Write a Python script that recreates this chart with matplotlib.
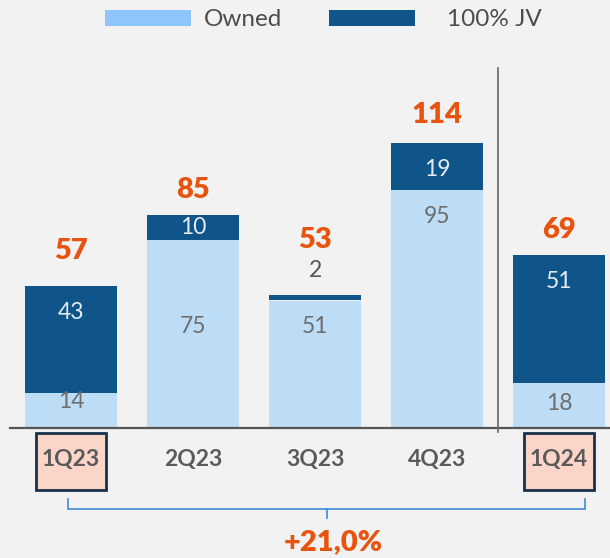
"""Quarterly stacked bars: Owned vs 100% JV, with totals and YoY bracket."""
import matplotlib
matplotlib.use("Agg")
import matplotlib.pyplot as plt
from matplotlib.patches import Rectangle

# --- data -----------------------------------------------------------------
quarters = ["1Q23", "2Q23", "3Q23", "4Q23", "1Q24"]
owned = [14, 75, 51, 95, 18]
jv = [43, 10, 2, 19, 51]
totals = [57, 85, 53, 114, 69]
highlight = ["1Q23", "1Q24"]
growth_label = "+21,0%"

# --- label layout (data units, y) ------------------------------------------
owned_label_y = [10.4, 40.4, 40.4, 84.4, 9.6]
jv_label_y = [46.0, 80.0, 62.8, 103.2, 58.4]
total_label_y = [70.9, 95.2, 75.2, 125.2, 79.2]

BG = "#f2f2f2"
LIGHT = "#bddcf5"
LIGHT_LEG = "#8ec6fb"
DARK = "#10558a"
ORANGE = "#e8540f"
GREY = "#5a5a5a"
FONT = "Lato"

W, H = 610, 558
fig = plt.figure(figsize=(W / 100, H / 100), dpi=100, facecolor=BG)
ax = fig.add_axes([0, 0, 1, 1])
ax.set_facecolor(BG)
ax.axis("off")

# pixel layout: bar centres at 71 + 122*i, baseline at y=428, 2.5 px per unit
ax.set_xlim(-71 / 122, (W - 71) / 122)
ax.set_ylim((428 - H) / 2.5, 428 / 2.5)

x = list(range(len(quarters)))
ax.bar(x, owned, width=0.755, color=LIGHT, zorder=2)
ax.bar(x, jv, width=0.755, bottom=owned, color=DARK, zorder=2)

for i in x:
    ax.text(i, owned_label_y[i], str(owned[i]), ha="center", va="center",
            fontsize=16.5, fontweight="normal", family=FONT, color="#6e6e6e", zorder=3)
    jv_col = "#555555" if jv[i] < 5 else "#e4ebf3"
    ax.text(i, jv_label_y[i], str(jv[i]), ha="center", va="center",
            fontsize=16.5, fontweight="normal", family=FONT, color=jv_col, zorder=3)
    ax.text(i, total_label_y[i], str(totals[i]), ha="center", va="center",
            fontsize=21, fontweight="heavy", family=FONT, color=ORANGE, zorder=3)

# baseline and separator
ax.axhline(0, xmin=10 / W, xmax=1, color="#555555", lw=1.6, zorder=4)
ax.axvline(3.5, ymin=(H - 432) / H, ymax=(H - 68) / H, color="#666666", lw=1.2, zorder=4)

# category labels, boxed ones highlighted
for i, q in enumerate(quarters):
    if q in highlight:
        ax.add_patch(Rectangle((i - 0.283, -24.8), 0.566, 22.8, facecolor="#fbd5c8",
                               edgecolor="#17324d", lw=2, zorder=3))
    ax.text(i, -12.6, q, ha="center", va="center", fontsize=16.5, fontweight="bold",
            family=FONT, color=GREY, zorder=4)

# growth bracket between first and last quarter
bl, br = -0.025, 4.215
bm = (bl + br) / 2
ax.plot([bl, bl, br, br], [-28.4, -32.4, -32.4, -28.4], color="#3f8ad6", lw=1.2,
        solid_joinstyle="miter", zorder=3)
ax.plot([bm, bm], [-32.4, -36.0], color="#3f8ad6", lw=1.2, zorder=3)
ax.text(bm + 0.055, -45.6, growth_label, ha="center", va="center", fontsize=21,
        fontweight="heavy", family=FONT, color=ORANGE)

# legend drawn by hand at the top
def px(xp, yp):
    return xp / W, 1 - yp / H

for (x0, x1), col, lab, tx in [((105, 191), LIGHT_LEG, "Owned", 204),
                               ((329, 415), DARK, "100% JV", 447)]:
    fx, fy = px(x0, 26)
    fig.patches.append(Rectangle((fx, fy), (x1 - x0) / W, 16 / H, facecolor=col,
                                 transform=fig.transFigure, figure=fig))
    tx_, ty_ = px(tx, 19)
    fig.text(tx_, ty_, lab, ha="left", va="center", fontsize=17.5, family=FONT,
             color="#4d4d4d")

fig.savefig("out.png", dpi=100, facecolor=BG)
